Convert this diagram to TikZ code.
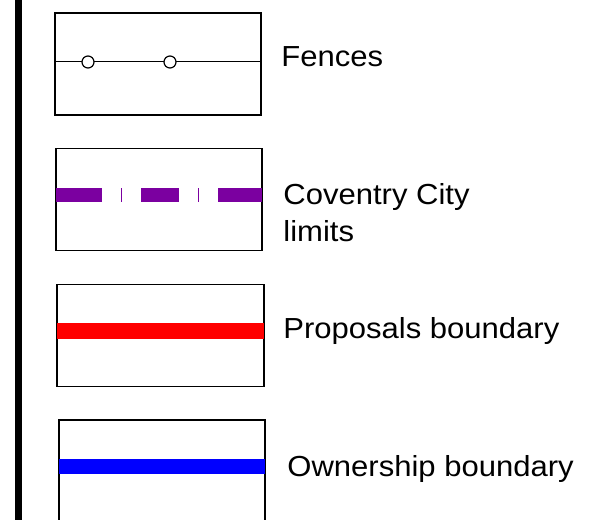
\documentclass[tikz,border=0pt]{standalone}
\usepackage{fontspec}
\setmainfont{Liberation Sans}[FakeStretch=1.07]
\usepackage{tikz}
\usetikzlibrary{positioning, calc}

\definecolor{citypurple}{RGB}{123,0,160}

\tikzset{
  keybox/.style={draw=black, line width=.75pt, minimum width=103pt, minimum height=51pt, inner sep=0pt, outer sep=0pt},
  keytext/.style={anchor=base west, inner sep=0pt, font=\fontsize{14.5}{18.5}\selectfont},
  fencepost/.style={circle, draw=black, fill=white, line width=.6pt, minimum size=6pt, inner sep=0pt},
  band/.style={line width=7.5pt, line cap=butt}
}

\begin{document}
\begin{tikzpicture}[x=.5pt,y=-.5pt]
  \useasboundingbox (0,0) rectangle (592,519);
%%
  % Side rule
  \draw [line width=3.25pt] (18.5,-5) -- (18.5,525);
  % Key: fences
  \node [keybox] (fencebox) at (158,64) {};
  \draw [line width=.5pt] ([yshift=1pt]fencebox.west) -- ([yshift=1pt]fencebox.east);
  \node [fencepost] (postA) at (88,62) {};
  \node [fencepost] (postB) at (170,62) {};
  \node [keytext] (fencetext) at (281,67) {Fences};
  % Key: city limits
  \node [keybox] (citybox) at (159,199.5) {};
  \draw [band, citypurple, line width=7pt,
         dash pattern=on 23pt off 9.5pt on .6pt off 9.5pt on 19pt off 9.5pt on .6pt off 9.5pt on 30pt]
    ([yshift=2.25pt]citybox.west) -- ([yshift=2.25pt]citybox.east);
  \node [keytext, anchor=west, align=left] (citytext) at (283,213) {Coventry City\\limits};
  % Key: proposals boundary
  \node [keybox, minimum width=103.5pt] (propbox) at (160.5,335.5) {};
  \draw [band, red, line width=8pt] ([yshift=2.25pt]propbox.west) -- ([yshift=2.25pt]propbox.east);
  \node [keytext] (proptext) at (283,338) {Proposals boundary};
  % Key: ownership boundary
  \node [keybox] (ownbox) at (162,471) {};
  \draw [band, blue] ([yshift=2.25pt]ownbox.west) -- ([yshift=2.25pt]ownbox.east);
  \node [keytext] (owntext) at (287,476) {Ownership boundary};
%
\end{tikzpicture}
\end{document}
